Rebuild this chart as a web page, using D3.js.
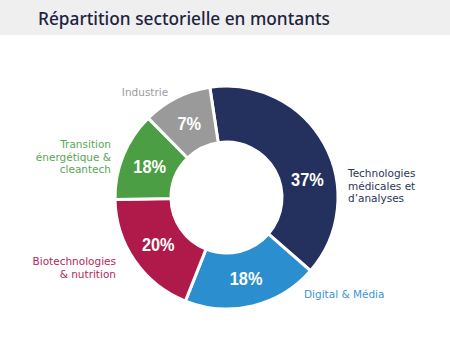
<!DOCTYPE html>
<html><head><meta charset="utf-8">
<script src="https://cdn.jsdelivr.net/npm/d3@7"></script>
<style>
html,body{margin:0;padding:0;background:#fff;}
svg{display:block;}
</style></head>
<body>
<script>
const categories = ["Technologies médicales et d’analyses","Digital & Média","Biotechnologies & nutrition","Transition énergétique & cleantech","Industrie"];
const arcShares = [38.8, 19.6, 18.7, 12.9, 10.0];
const percentLabels = ["37%","18%","20%","18%","7%"];
const labelLines = [["Technologies","médicales et","d’analyses"],["Digital & Média"],["Biotechnologies","& nutrition"],["Transition","énergétique &","cleantech"],["Industrie"]];
const title = "Répartition sectorielle en montants";

const W=450,H=358;
const fills=["#24305e","#2b8ecf","#b01a4b","#4c9e44","#9a9a9a"];
const textCols=["#2c3658","#3b96d3","#b3285c","#5aa655","#9c9c9c"];

const svg=d3.select("body").append("svg").attr("width",W).attr("height",H);
svg.append("rect").attr("x",0).attr("y",0).attr("width",W).attr("height",35).attr("fill","#efefef");
svg.append("text").attr("x",38).attr("y",25).text(title)
  .attr("font-family","'Noto Sans',sans-serif").attr("font-weight",500)
  .attr("font-size",18).attr("fill","#1d2340").attr("textLength",292).attr("lengthAdjust","spacingAndGlyphs");

const cx=226.5, cy=197.5;
const g=svg.append("g").attr("transform",`translate(${cx},${cy})`);
const startDeg=-8.6;
const pie=d3.pie().sort(null).value(d=>d)
  .startAngle(startDeg*Math.PI/180).endAngle((startDeg+360)*Math.PI/180);
const arcs=pie(arcShares);
const arc=d3.arc().innerRadius(55.5).outerRadius(111.5);
g.selectAll("path").data(arcs).join("path")
  .attr("d",arc).attr("fill",(d,i)=>fills[i]).attr("stroke","#fff").attr("stroke-width",3).attr("stroke-linejoin","miter");

// percent labels
const labelAngleShift=[16,0,0,0,0];
const rl=83;
g.selectAll("text.pct").data(arcs).join("text").attr("class","pct")
  .attr("transform",(d,i)=>{
    const a=(d.startAngle+d.endAngle)/2+labelAngleShift[i]*Math.PI/180;
    return `translate(${rl*Math.sin(a)},${-rl*Math.cos(a)+6.5}) scale(0.86,1)`;
  })
  .attr("text-anchor","middle").attr("font-family","'Liberation Sans',Arial,sans-serif")
  .attr("font-weight","bold").attr("font-size",19).attr("fill","#fff")
  .text((d,i)=>percentLabels[i]);

// outside labels
const outPos=[{x:348,y:177,a:"start"},{x:304,y:298,a:"start"},{x:116,y:265,a:"end"},{x:111,y:148,a:"end"},{x:145,y:96,a:"middle"}];
labelLines.forEach((lines,i)=>{
  lines.forEach((l,j)=>svg.append("text").attr("font-family","'DejaVu Sans',sans-serif").attr("font-size",10.5)
    .attr("fill",textCols[i]).attr("text-anchor",outPos[i].a)
    .attr("x",outPos[i].x).attr("y",outPos[i].y+j*12.5).text(l));
});
</script>
</body></html>
